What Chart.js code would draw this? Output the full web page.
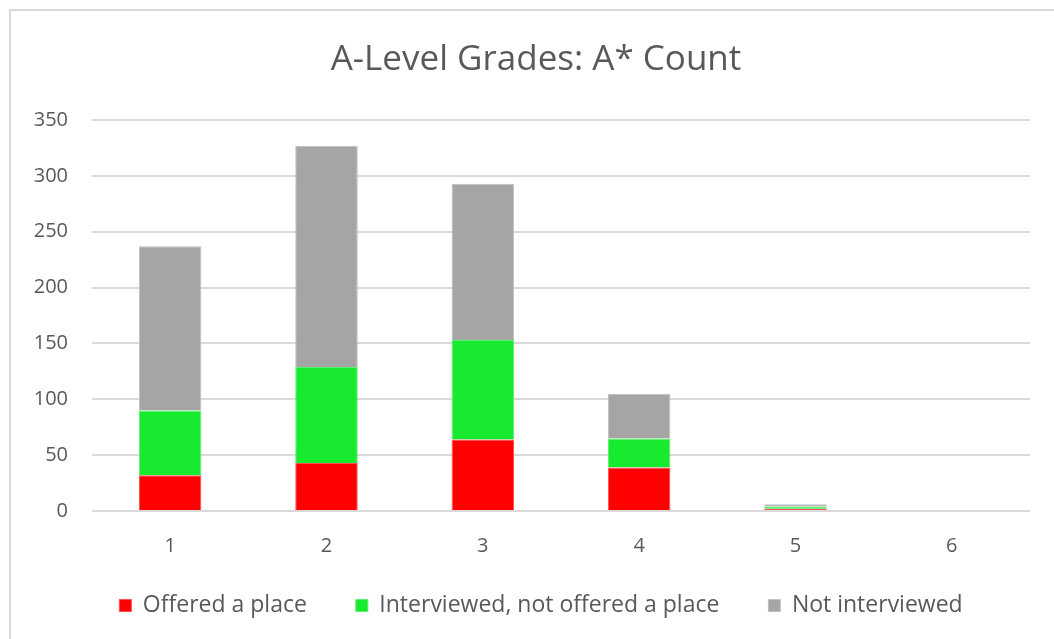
<!DOCTYPE html>
<html>
<head>
<meta charset="utf-8">
<script src="https://cdn.jsdelivr.net/npm/chart.js@4"></script>
<style>
  html, body { margin: 0; padding: 0; background: #fff; }
  #wrap { position: relative; width: 1054px; height: 639px; overflow: hidden; }
  #frame { position: absolute; left: 9px; top: 9px; width: 1050px; height: 640px; border: 2px solid #d9d9d9; box-sizing: border-box; }
  canvas { position: absolute; left: 0; top: 0; }
</style>
</head>
<body>
<div id="wrap">
  <div id="frame"></div>
  <canvas id="chart" width="1054" height="639"></canvas>
</div>
<script>
// A* count categories and stacked series
const categories = ['1', '2', '3', '4', '5', '6'];
const offered = [32, 43, 64, 39, 2, 0];
const interviewed = [58, 86, 89, 26, 2, 0];
const notInterviewed = [147, 198, 140, 40, 2, 0];

const textColor = '#595959';
const fontFamily = "'Open Sans', sans-serif";

// shift the title when it is drawn
function nudge(box, dx, dy) {
  const draw = box.draw;
  box.draw = function (area) {
    const c = this.ctx;
    c.save();
    c.translate(dx, dy);
    draw.call(this, area);
    c.restore();
  };
}

// legend takes a short band in the layout, then gets moved/enlarged before drawing
const boxTweak = {
  id: 'boxTweak',
  afterInit(chart) {
    const legend = chart.legend;
    if (legend) {
      const fit = legend.fit;
      legend.fit = function () {
        fit.call(this);
        this.height = 66;
      };
    }
    if (chart.titleBlock) nudge(chart.titleBlock, 11, 0);
  },
  afterLayout(chart) {
    const L = chart.legend;
    if (!L) return;
    L.top -= 28;
    L.height = 140;
    L.bottom = L.top + L.height;
    L.left += 16;
    L.right += 16;
  }
};

const ctx = document.getElementById('chart').getContext('2d');
new Chart(ctx, {
  type: 'bar',
  data: {
    labels: categories,
    datasets: [
      { label: 'Offered a place', data: offered, backgroundColor: '#ff0000', borderColor: '#ff5050', borderWidth: 1 },
      { label: 'Interviewed, not offered a place', data: interviewed, backgroundColor: '#17ea2f', borderColor: '#5cf06e', borderWidth: 1 },
      { label: 'Not interviewed', data: notInterviewed, backgroundColor: '#a5a5a5', borderColor: '#c0c0c0', borderWidth: 1 }
    ]
  },
  plugins: [boxTweak],
  options: {
    responsive: false,
    animation: false,
    layout: { padding: { left: 20, right: 24, top: 0, bottom: 0 } },
    datasets: {
      bar: { barPercentage: 0.4, categoryPercentage: 1.0 }
    },
    plugins: {
      title: {
        display: true,
        text: 'A-Level Grades: A* Count',
        color: textColor,
        font: { family: fontFamily, size: 35, weight: 'normal' },
        padding: { top: 39, bottom: 39 }
      },
      legend: {
        position: 'bottom',
        labels: {
          color: textColor,
          font: { family: fontFamily, size: 23 },
          boxWidth: 12,
          boxHeight: 12,
          padding: 49,
          useBorderRadius: false
        }
      },
      tooltip: { enabled: false }
    },
    scales: {
      x: {
        stacked: true,
        grid: { display: false },
        border: { display: false },
        ticks: { color: textColor, font: { family: fontFamily, size: 20 }, padding: 15 }
      },
      y: {
        stacked: true,
        min: 0,
        max: 350,
        ticks: { stepSize: 50, color: textColor, font: { family: fontFamily, size: 20 }, padding: 24 },
        grid: { color: '#d9d9d9', lineWidth: 2, drawTicks: false },
        border: { display: false },
        afterFit: (scale) => { scale.width = 72; }
      }
    }
  }
});
</script>
</body>
</html>
